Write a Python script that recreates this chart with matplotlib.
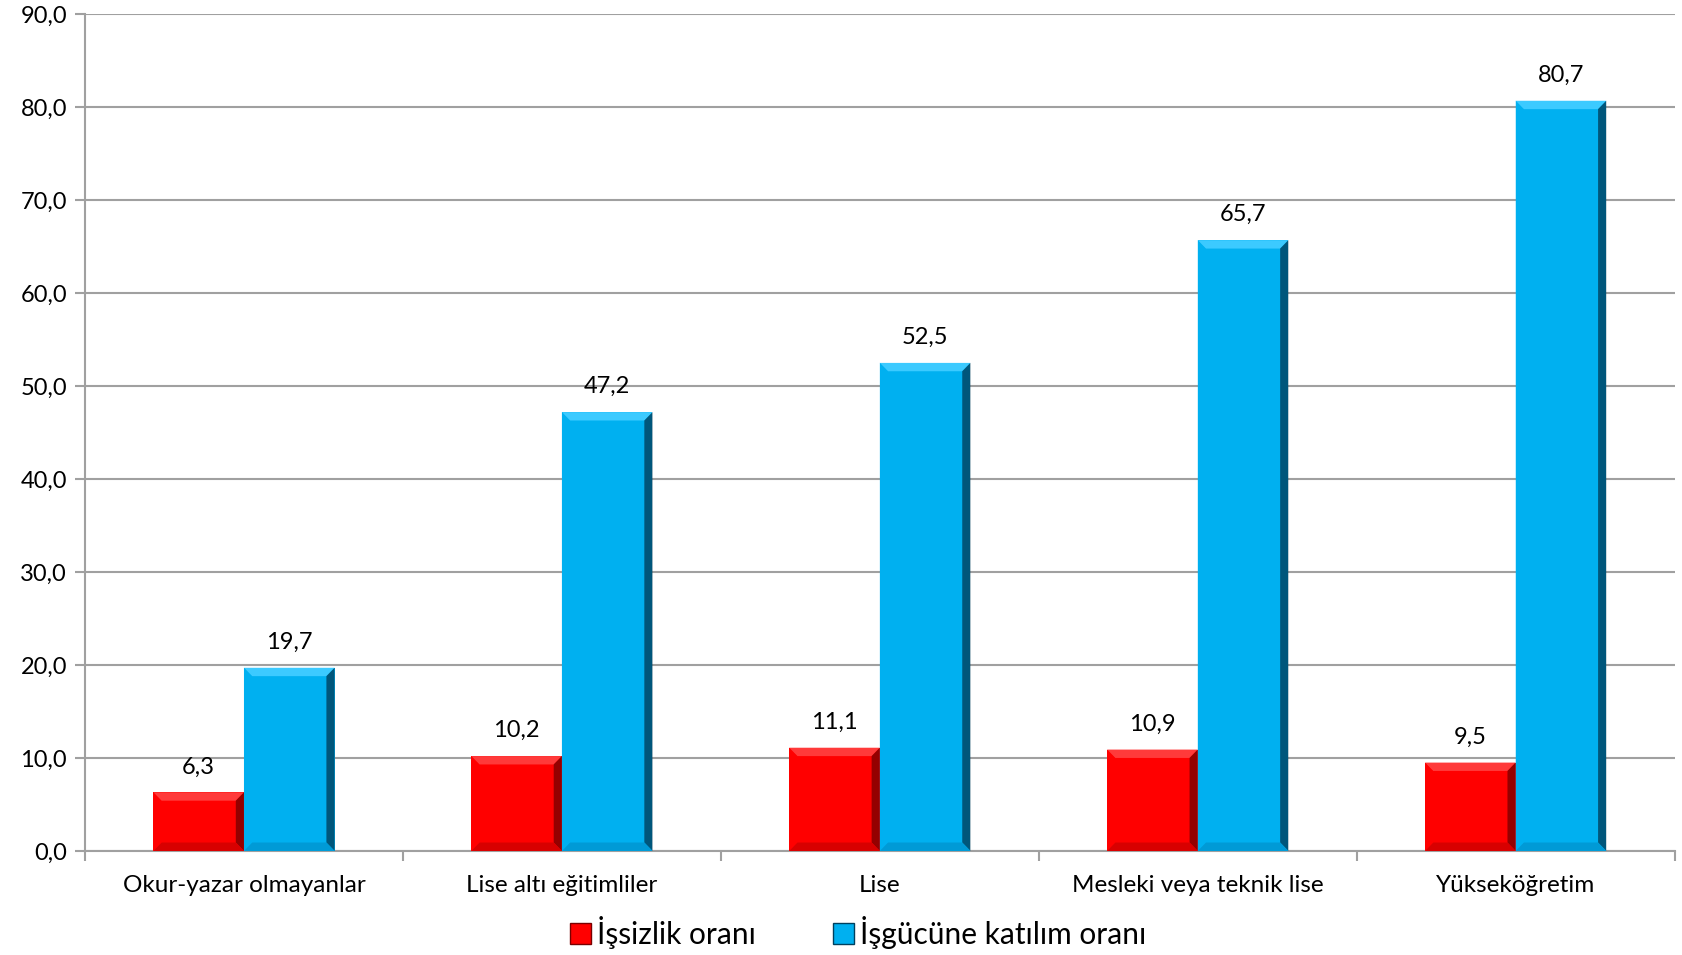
import numpy as np
import matplotlib.pyplot as plt
from matplotlib.patches import Polygon, Patch

plt.rcParams['font.family'] = ['Lato', 'DejaVu Sans']

categories = ['Okur-yazar olmayanlar', 'Lise altı eğitimliler', 'Lise',
              'Mesleki veya teknik lise', 'Yükseköğretim']
issizlik = [6.3, 10.2, 11.1, 10.9, 9.5]
isgucu = [19.7, 47.2, 52.5, 65.7, 80.7]
series_names = ['İşsizlik oranı', 'İşgücüne katılım oranı']
colors = ['#ff0000', '#00b0f0']
top_col = ['#ff3a3a', '#3ccaff']
side_col = ['#7a0000', '#00405e']
bot_col = ['#d80000', '#009ad6']

fig = plt.figure(figsize=(16.83, 9.55), dpi=100)
ax = fig.add_axes([0.0505, 0.109, 0.9445, 0.876])

x = np.arange(len(categories))
w = 0.285


def bevel(ax, x0, x1, h, i):
    # fake the 3D bevel: top light edge, right dark edge, bottom shade
    bw = x1 - x0
    dx = bw * 0.09
    dy = min(0.9, h * 0.3)
    ax.add_patch(Polygon([[x0, h], [x1, h], [x1 - dx, h - dy], [x0 + dx, h - dy]],
                         closed=True, fc=top_col[i], ec='none', zorder=4))
    ax.add_patch(Polygon([[x1, h], [x1, 0], [x1 - dx, dy], [x1 - dx, h - dy]],
                         closed=True, fc=side_col[i], ec='none', zorder=4, alpha=0.8))
    ax.add_patch(Polygon([[x0, 0], [x1, 0], [x1 - dx, dy], [x0 + dx, dy]],
                         closed=True, fc=bot_col[i], ec='none', zorder=4))
    ax.add_patch(Polygon([[x0, 0], [x0, h], [x0 + dx, h - dy], [x0 + dx, dy]],
                         closed=True, fc=colors[i], ec='none', zorder=4, alpha=0.6))


for i, vals in enumerate([issizlik, isgucu]):
    pos = x - w / 2 + i * w
    bars = ax.bar(pos, vals, width=w, color=colors[i], zorder=3)
    for b, v in zip(bars, vals):
        bevel(ax, b.get_x(), b.get_x() + b.get_width(), v, i)
        ax.text(b.get_x() + b.get_width() / 2, v + 1.6, f'{v:.1f}'.replace('.', ','),
                ha='center', va='bottom', fontsize=17, color='black')

ax.set_ylim(0, 90)
ax.set_xlim(-0.5, len(categories) - 0.5)
ax.set_yticks(np.arange(0, 91, 10))
ax.set_yticklabels([f'{t:.1f}'.replace('.', ',') for t in np.arange(0, 91, 10)], fontsize=17)
ax.yaxis.grid(True, color='#a0a0a0', linewidth=1.5, zorder=0)
ax.set_axisbelow(True)

ax.set_xticks(x)
ax.set_xticklabels(categories, fontsize=17.5)
ax.tick_params(axis='x', length=0, pad=17)
ax.set_xticks(np.arange(-0.5, len(categories)), minor=True)
ax.tick_params(axis='x', which='minor', length=7, color='#a0a0a0', width=1.5)
ax.tick_params(axis='y', length=7, color='#a0a0a0', width=1.5, pad=6)

for s in ['top', 'right']:
    ax.spines[s].set_visible(False)
for s in ['left', 'bottom']:
    ax.spines[s].set_color('#a0a0a0')
    ax.spines[s].set_linewidth(1.5)

handles = [Patch(facecolor=colors[i], edgecolor=side_col[i], label=series_names[i])
           for i in range(2)]
fig.legend(handles=handles, loc='center', bbox_to_anchor=(0.51, 0.024), ncol=2,
           frameon=False, fontsize=21.5, handlelength=0.7, handleheight=0.7,
           handletextpad=0.2, columnspacing=2.6)

fig.savefig('out.png', dpi=100)
